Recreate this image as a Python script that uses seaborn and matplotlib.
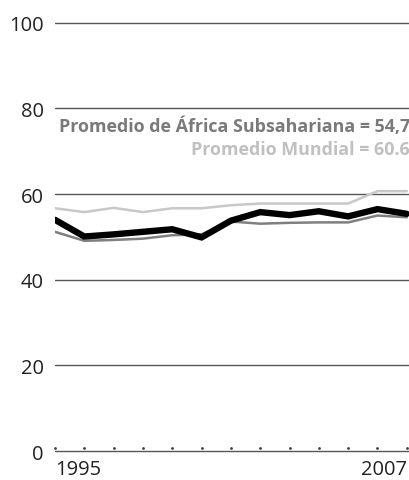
import matplotlib
matplotlib.use("Agg")
import matplotlib.pyplot as plt
import seaborn as sns
import pandas as pd
import numpy as np

years = list(range(1995, 2008))
country = [54.0, 50.1, 50.6, 51.2, 51.8, 49.9, 53.8, 55.8, 55.1, 56.0, 54.8, 56.5, 55.4]
ssa = [51.2, 49.1, 49.3, 49.6, 50.4, 50.6, 53.6, 53.1, 53.3, 53.4, 53.4, 55.0, 54.6]
world = [56.7, 55.8, 56.8, 55.8, 56.7, 56.7, 57.4, 57.8, 57.8, 57.8, 57.8, 60.7, 60.7]
yticks = [0, 20, 40, 60, 80, 100]
xtick_labels = ["1995", "2007"]
label_ssa = "Promedio de África Subsahariana = 54,7"
label_world = "Promedio Mundial = 60.6"

sns.set_theme(style="white")
plt.rcParams['font.family'] = ['Open Sans', 'DejaVu Sans']

fig = plt.figure(figsize=(4.10, 4.81), dpi=100)
ax = fig.add_axes([55/410, 0.0513, 1 - 55/410, 0.908])

for v in yticks:
    ax.axhline(v, color="#555555", lw=1.0, zorder=1)

df = pd.DataFrame({"year": years, "country": country, "ssa": ssa, "world": world})
sns.lineplot(data=df, x="year", y="world", ax=ax, color="#c8c8c8", lw=1.8, zorder=2)
sns.lineplot(data=df, x="year", y="ssa", ax=ax, color="#7f7f7f", lw=1.8, zorder=3)
sns.lineplot(data=df, x="year", y="country", ax=ax, color="black", lw=4.6, zorder=4,
             solid_joinstyle="miter")

# small dots on the baseline at each year
ax.plot(years, [0.8] * len(years), ls="", marker="o", ms=1.0, color="#444444",
        clip_on=False, zorder=5)

ax.set_xlim(1995, 2007.11)
ax.set_ylim(-1, 101)
ax.set_xlabel("")
ax.set_ylabel("")
for s in ax.spines.values():
    s.set_visible(False)

ax.set_yticks(yticks)
ax.set_yticklabels([str(v) for v in yticks], fontsize=14.5, color="#222222")
ax.tick_params(axis="y", length=0, pad=8)
ax.set_xticks([1995, 2007])
ax.set_xticklabels(xtick_labels, fontsize=14.5, color="#222222")
ax.tick_params(axis="x", length=0, pad=3)
xl = ax.get_xticklabels()
xl[0].set_ha("left")
xl[1].set_ha("right")

ax.text(1.0, 75.9, label_ssa, transform=ax.get_yaxis_transform(), ha="right", va="center",
        fontsize=12.9, fontweight="bold", color="#7a7a7a")
ax.text(1.0, 70.5, label_world, transform=ax.get_yaxis_transform(), ha="right", va="center",
        fontsize=12.9, fontweight="bold", color="#c0c0c0")

fig.savefig("out.png", dpi=100)
